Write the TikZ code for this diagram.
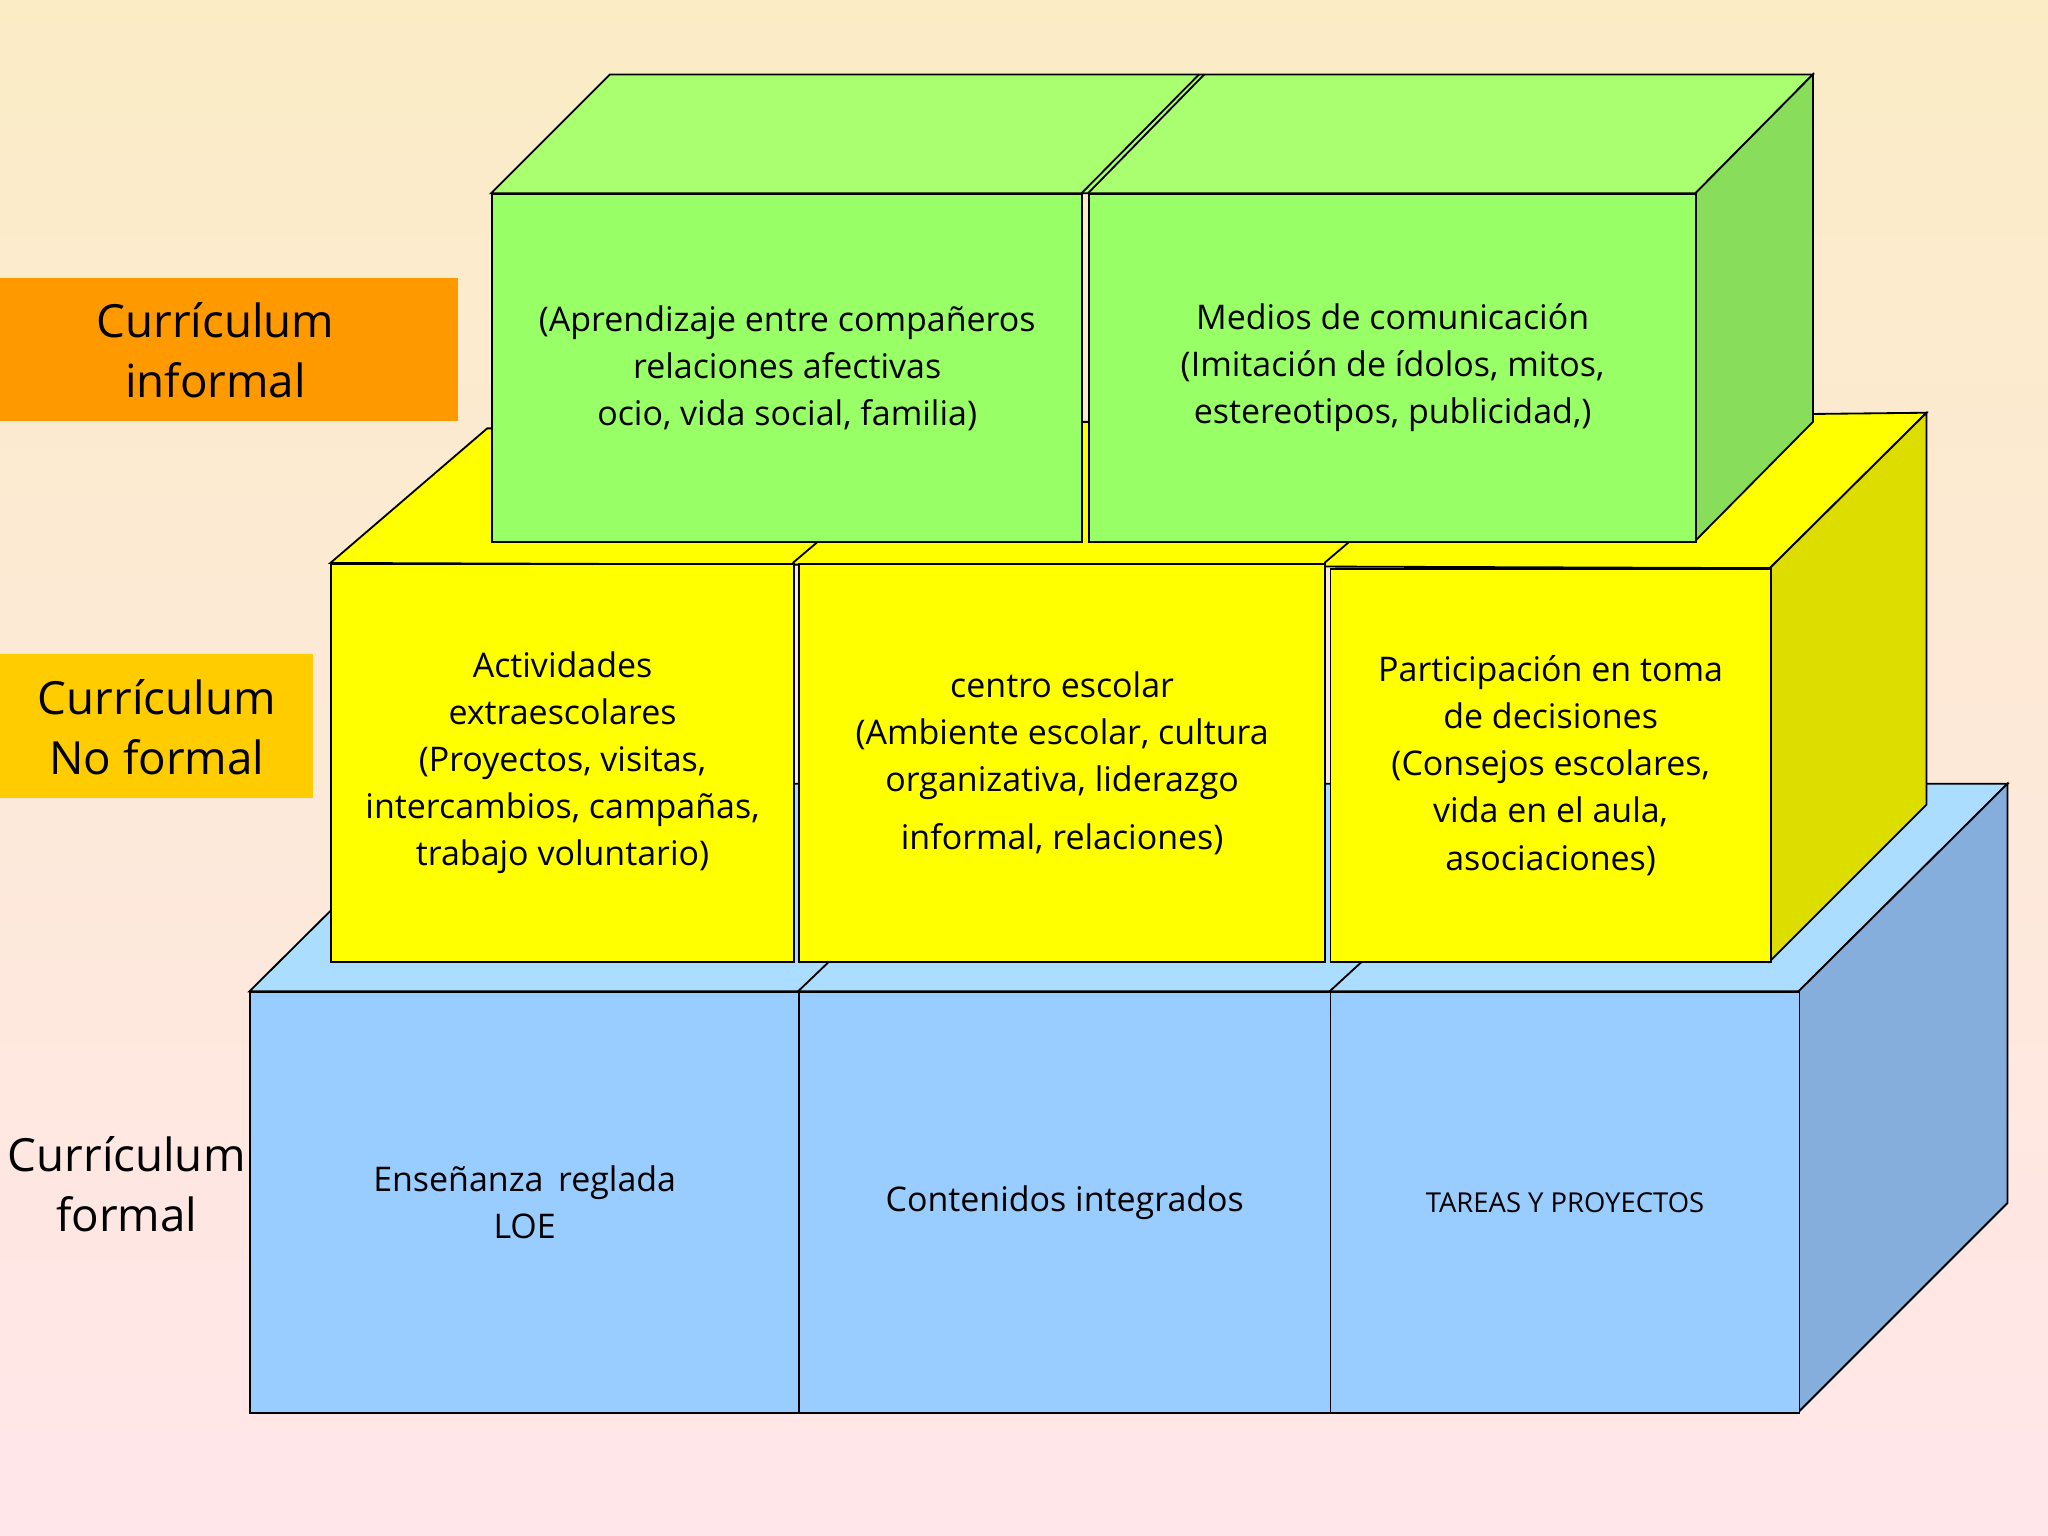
\documentclass[tikz,border=0pt]{standalone}
\usepackage{fontspec}
\setmainfont{Open Sans}
\begin{document}
\begin{tikzpicture}[x=0.5pt,y=-0.5pt,
  face/.style={draw=black,line width=0.7pt},
  fbox/.style={draw=black,line width=0.7pt,anchor=north west,inner sep=0pt,align=center,font=\fontsize{13}{18}\selectfont},
  lbl/.style={align=center,font=\fontsize{17.5}{23}\selectfont,inner sep=0pt}]
\useasboundingbox (0,0) rectangle (1568,1176);
\shade[top color={rgb,255:red,251;green,236;blue,198},bottom color={rgb,255:red,255;green,230;blue,234}] (0,0) rectangle (1568,1176);
\definecolor{bfront}{RGB}{153,204,255}\definecolor{btop}{RGB}{170,221,255}\definecolor{bside}{RGB}{133,174,221}
\definecolor{yfront}{RGB}{255,255,0}\definecolor{yside}{RGB}{221,221,0}
\definecolor{gfront}{RGB}{153,255,102}\definecolor{gtop}{RGB}{170,255,112}\definecolor{gside}{RGB}{136,221,90}
% blue tier
\fill[btop,face] (191,759) -- (351,600) -- (1537,600) -- (1377,759) -- cycle;
\fill[bside,face] (1377,759) -- (1537,600) -- (1537,921) -- (1377,1081) -- cycle;
\draw[face] (611,759) -- (635,736) (1018,759) -- (1043,736);
\node[fbox,fill=bfront,minimum width=210pt,minimum height=161pt] (b1) at (191,759) {Enseñanza\, reglada\\LOE};
\node[fbox,fill=bfront,minimum width=203.5pt,minimum height=161pt] (b2) at (611,759) {Contenidos integrados};
\node[fbox,fill=bfront,minimum width=179.5pt,minimum height=161pt,font=\fontsize{10.5}{14}\selectfont] (b3) at (1018,759) {TAREAS Y PROYECTOS};
% yellow tier
\fill[yfront,face] (253,431) -- (373,328) -- (1475,316) -- (1355,435) -- cycle;
\fill[yside,face] (1355,435) -- (1475,316) -- (1475,616) -- (1355,736) -- cycle;
\draw[face] (607,431) -- (627,414) (1014,431) -- (1034,414);
\node[fbox,fill=yfront,minimum width=177pt,minimum height=152.5pt] (y1) at (253,431) {Actividades\\extraescolares\\(Proyectos, visitas,\\intercambios, campañas,\\trabajo voluntario)};
\node[fbox,fill=yfront,minimum width=201.5pt,minimum height=152.5pt] (y2) at (611,431) {centro escolar\\(Ambiente escolar, cultura\\organizativa, liderazgo\\[4pt]informal, relaciones)};
\node[fbox,fill=yfront,minimum width=168.5pt,minimum height=150.5pt] (y3) at (1018,435) {Participación en toma\\de decisiones\\(Consejos escolares,\\vida en el aula,\\asociaciones)};
% green tier
\fill[gtop,face] (376,148) -- (467,57) -- (1388,57) -- (1298,148) -- cycle;
\draw[face] (828,148) -- (918,57) (833,148) -- (922,57);
\fill[gside,face] (1298,148) -- (1388,57) -- (1388,323) -- (1298,414) -- cycle;
\node[fbox,fill=gfront,minimum width=226pt,minimum height=133pt] (g1) at (376,148) {(Aprendizaje entre compañeros\\relaciones afectivas\\ocio, vida social, familia)};
\node[fbox,fill=gfront,minimum width=232.5pt,minimum height=133pt] (g2) at (833,148) {Medios de comunicación\\(Imitación de ídolos, mitos,\\estereotipos, publicidad,)};
% labels
\fill[fill={rgb,255:red,255;green,153;blue,0}] (0,213) rectangle (351,322);
\node[lbl] (l1) at (165,268) {Currículum\\informal};
\fill[fill={rgb,255:red,255;green,204;blue,0}] (0,501) rectangle (240,611);
\node[lbl] (l2) at (120,557) {Currículum\\No formal};
\node[lbl] (l3) at (97,907) {Currículum\\formal};
\end{tikzpicture}
\end{document}
